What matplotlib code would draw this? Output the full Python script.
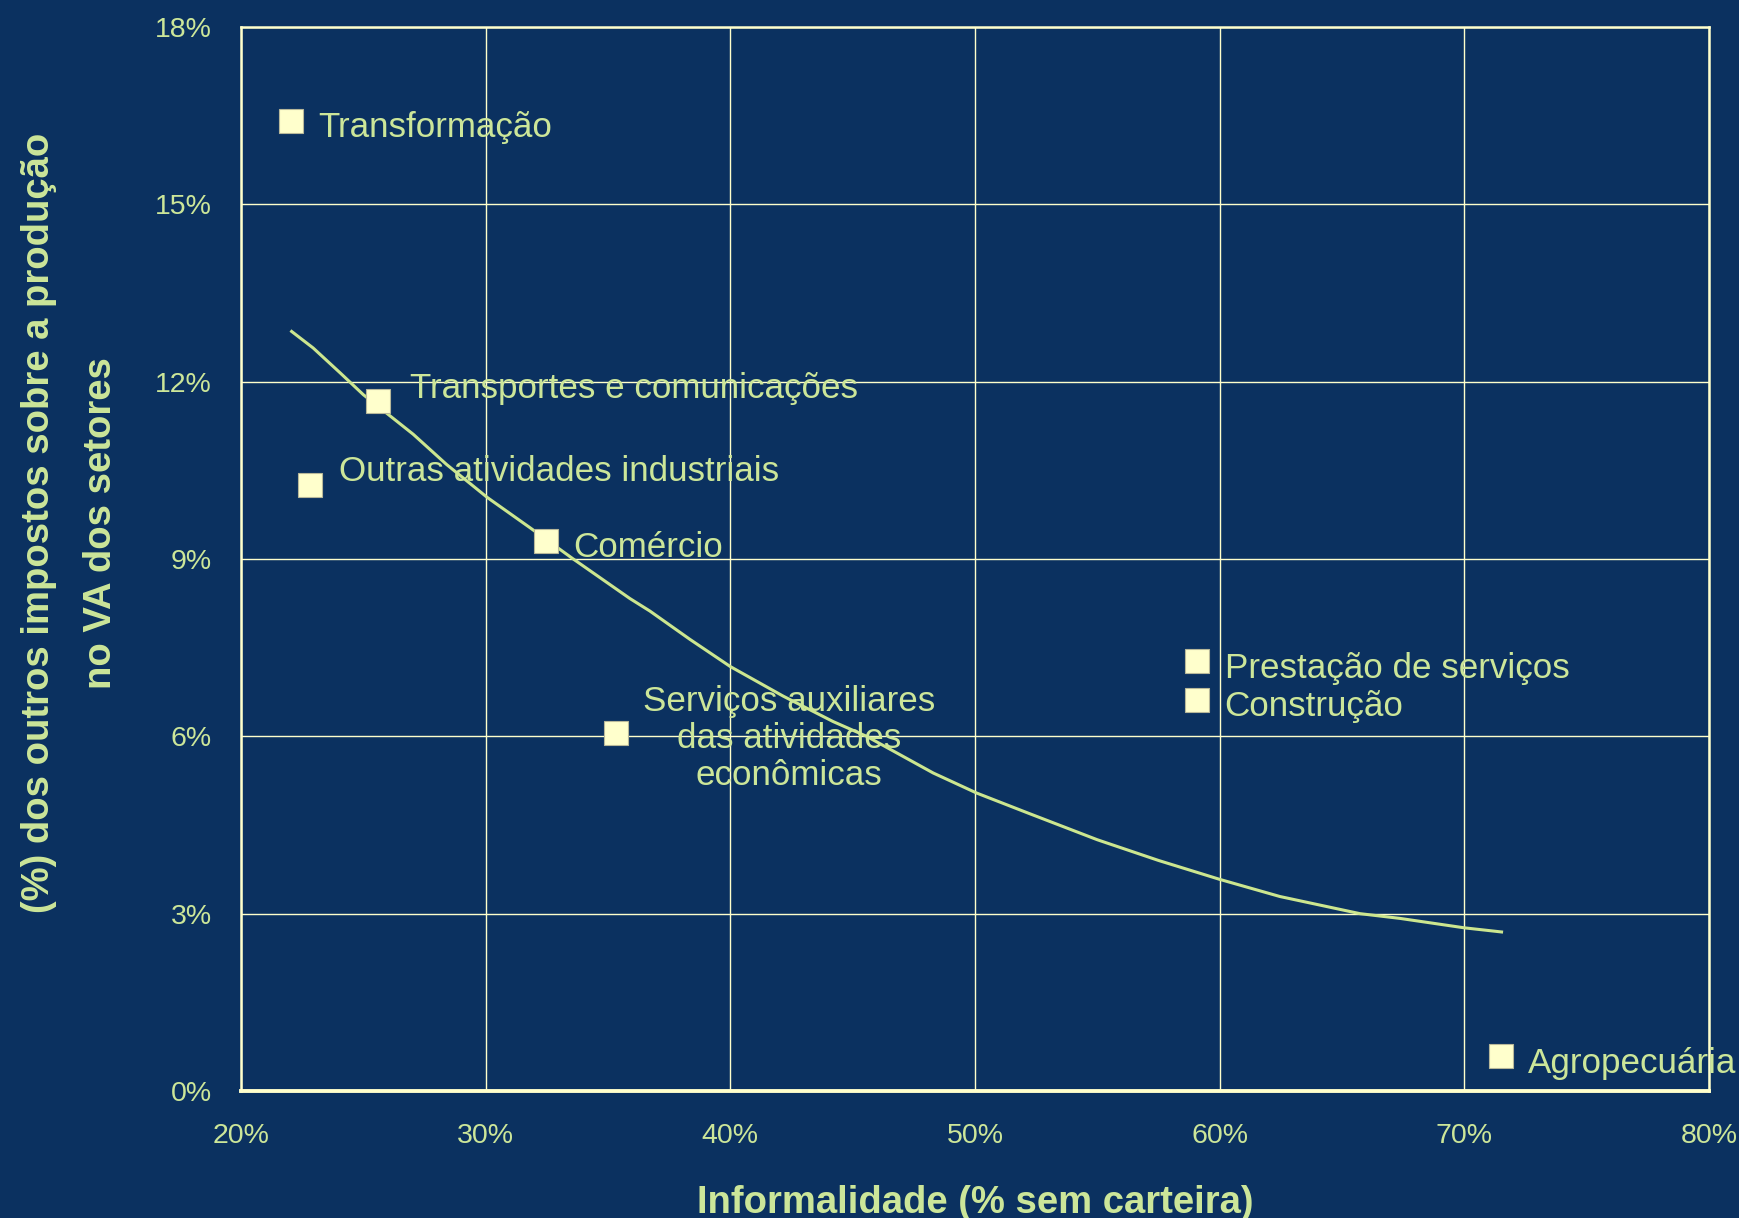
import numpy as np
import matplotlib.pyplot as plt

# sectors: informalidade (% sem carteira) x outros impostos (% VA)
setores = ['Transformação', 'Transportes e comunicações', 'Outras atividades industriais',
           'Comércio', 'Serviços auxiliares\ndas atividades\neconômicas',
           'Prestação de serviços', 'Construção', 'Agropecuária']
informalidade = [22.04, 25.59, 22.83, 32.48, 35.32, 59.07, 59.07, 71.48]
impostos = [16.41, 11.68, 10.25, 9.31, 6.05, 7.27, 6.62, 0.59]

# trend line
tend_x = [22.07, 22.95, 24.05, 25.0, 27.04, 28.4, 30.07, 31.81, 33.58, 35.9,
          36.71, 38.35, 40.0, 42.16, 44.2, 45.57, 48.29, 50.07, 52.24, 55.0,
          57.5, 60.0, 62.46, 65.73, 67.36, 70.0, 71.52]
tend_y = [12.85, 12.57, 12.15, 11.78, 11.11, 10.60, 10.04, 9.53, 9.0, 8.33,
          8.12, 7.64, 7.18, 6.68, 6.25, 6.0, 5.38, 5.04, 4.69, 4.25,
          3.90, 3.58, 3.29, 3.0, 2.92, 2.76, 2.69]

xticks = [20, 30, 40, 50, 60, 70, 80]
yticks = [0, 3, 6, 9, 12, 15, 18]

bg = '#0B3160'
txt = '#CCE699'
cream = '#FFFFCC'

plt.rcParams['font.family'] = ['Liberation Sans', 'DejaVu Sans']

fig = plt.figure(figsize=(17.4, 12.18), dpi=100, facecolor=bg)
ax = fig.add_axes([0.1385, 0.1043, 0.8437, 0.8735])
ax.set_facecolor(bg)

ax.plot(tend_x, tend_y, '-', color='#CCE68F', lw=2.2, zorder=3)
ax.plot(informalidade, impostos, 's', ms=17.5, mfc=cream, mec='#B8B89A',
        mew=0.8, zorder=4, clip_on=False)

# label offsets in points
offs = [(19.5, -4.5), (23.5, 8.5), (20.5, 9.5), (19.5, -5), (124.5, -3.6),
        (20, -5), (20, -5), (20, -5)]
for i, s in enumerate(setores):
    ha = 'center' if '\n' in s else 'left'
    ax.annotate(s, (informalidade[i], impostos[i]), xytext=offs[i],
                textcoords='offset points', ha=ha, va='center',
                multialignment='center', linespacing=1.15,
                fontsize=25.2, color=txt, zorder=5, annotation_clip=False)

ax.set_xlim(20, 80)
ax.set_ylim(0, 18)
ax.set_xticks(xticks)
ax.set_yticks(yticks)
ax.set_xticklabels([f'{v}%' for v in xticks])
ax.set_yticklabels([f'{v}%' for v in yticks])
ax.tick_params(length=0, labelsize=20.5, labelcolor=txt)
ax.tick_params(axis='x', pad=23)
ax.tick_params(axis='y', pad=21)
ax.grid(True, color=cream, lw=1.0, zorder=1)
ax.set_axisbelow(True)
for sp in ax.spines.values():
    sp.set_color(cream)
    sp.set_linewidth(1.8)
ax.spines['bottom'].set_linewidth(2.8)

ax.set_xlabel('Informalidade (% sem carteira)', fontsize=27.5, fontweight='bold',
              color=txt, va='center')
ax.xaxis.set_label_coords(0.5, -0.105)
ax.set_ylabel('(%) dos outros impostos sobre a produção\nno VA dos setores',
              fontsize=27.5, fontweight='bold', color=txt, va='center',
              linespacing=1.95)
ax.yaxis.set_label_coords(-0.1165, 0.534)

plt.savefig('out.png', facecolor=bg)
